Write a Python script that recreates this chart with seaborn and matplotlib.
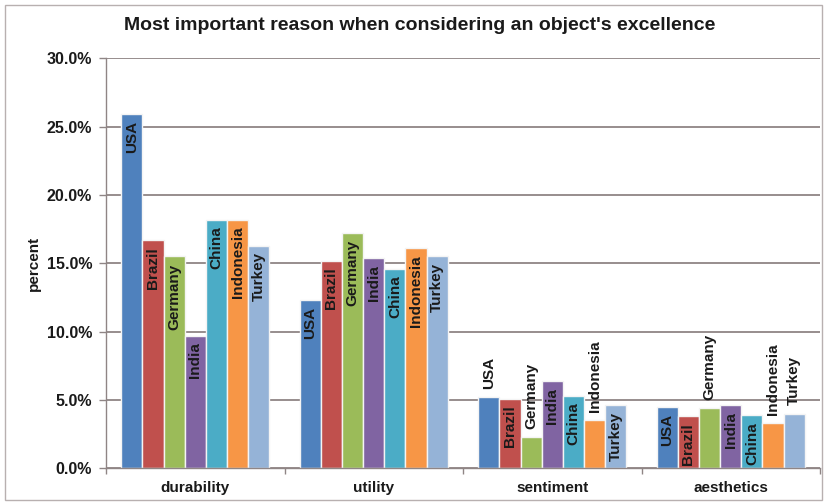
import matplotlib
matplotlib.use("Agg")
import matplotlib.pyplot as plt
import matplotlib.patches as mpatches
from matplotlib.ticker import PercentFormatter, FixedLocator
import seaborn as sns
import pandas as pd

# Survey results: share of respondents (in %) naming each reason
reasons = ["durability", "utility", "sentiment", "aesthetics"]
countries = ["USA", "Brazil", "Germany", "India", "China", "Indonesia", "Turkey"]
usa       = [25.9, 12.3, 5.2, 4.5]
brazil    = [16.7, 15.2, 5.1, 3.8]
germany   = [15.5, 17.2, 2.3, 4.4]
india     = [9.7, 15.4, 6.4, 4.6]
china     = [18.2, 14.6, 5.3, 3.9]
indonesia = [18.2, 16.1, 3.5, 3.3]
turkey    = [16.3, 15.5, 4.6, 4.0]
y_ticks = [0, 5, 10, 15, 20, 25, 30]

series = [usa, brazil, germany, india, china, indonesia, turkey]
df = pd.DataFrame(
    [(r, c, vals[i]) for c, vals in zip(countries, series) for i, r in enumerate(reasons)],
    columns=["reason", "country", "value"],
)

colors = ["#4F81BD", "#C0504D", "#9BBB59", "#8064A2", "#4BACC6", "#F79646", "#95B3D7"]

# Labels that sit above their bar instead of inside its top end
above = {("sentiment", "USA"), ("sentiment", "Germany"), ("sentiment", "Indonesia"),
         ("aesthetics", "Germany"), ("aesthetics", "Indonesia"), ("aesthetics", "Turkey")}

sns.set_theme(style="white")
plt.rcParams["font.family"] = ["Liberation Sans", "DejaVu Sans"]
plt.rcParams["font.weight"] = "bold"

fig = plt.figure(figsize=(8.25, 5.03), dpi=100)
fig.patch.set_facecolor("white")
ax = fig.add_axes([106 / 825, 1 - 468.3 / 503, (820 - 106) / 825, (468.3 - 58.3) / 503])

sns.barplot(data=df, x="reason", y="value", hue="country", order=reasons,
            hue_order=countries, palette=colors, width=0.83, saturation=1,
            edgecolor="#f4f4f4", linewidth=1.0, legend=False, ax=ax)

grid_col = "#8f8585"
ax.set_ylim(0, 30)
ax.set_xlim(-0.5, len(reasons) - 0.5)
ax.yaxis.set_major_locator(FixedLocator(y_ticks))
ax.yaxis.set_major_formatter(PercentFormatter(100, decimals=1))
ax.set_axisbelow(True)
ax.yaxis.grid(True, color=grid_col, linewidth=1.3)
ax.xaxis.grid(False)

for side in ("top", "right"):
    ax.spines[side].set_visible(False)
for side in ("left", "bottom"):
    ax.spines[side].set_color(grid_col)
    ax.spines[side].set_linewidth(1.0)

ax.tick_params(axis="y", which="major", length=5, width=1, color=grid_col,
               direction="out", pad=5, labelsize=11.5, labelcolor="#1a1a1a")
ax.tick_params(axis="y", left=True)
ax.set_xticks(range(len(reasons)))
ax.set_xticklabels(reasons, fontsize=11, fontweight="bold", color="#1a1a1a")
ax.tick_params(axis="x", which="major", length=0, pad=9)
ax.set_xticks([i - 0.5 for i in range(len(reasons) + 1)], minor=True)
ax.tick_params(axis="x", which="minor", length=4, width=1, color=grid_col,
               direction="out", bottom=True)
for lbl in ax.get_yticklabels():
    lbl.set_fontweight("bold")

ax.set_xlabel("")
ax.set_ylabel("percent", fontsize=11, fontweight="bold", color="#1a1a1a", labelpad=4)

# Country names written vertically on each bar
for container, country, vals in zip(ax.containers, countries, series):
    for bar, reason, v in zip(container, reasons, vals):
        cx = bar.get_x() + bar.get_width() / 2
        if (reason, country) in above:
            ax.text(cx, v + 0.6, country, rotation=90, ha="center", va="bottom",
                    fontsize=11, fontweight="bold", color="#1a1a1a")
        else:
            ax.text(cx, v - 0.5, country, rotation=90, ha="center", va="top",
                    fontsize=11, fontweight="bold", color="#1a1a1a")

fig.text(0.509, 1 - 25 / 503, "Most important reason when considering an object's excellence",
         ha="center", va="center", fontsize=14, fontweight="bold", color="#1a1a1a")

# Outer chart frame
fig.patches.append(mpatches.Rectangle((5 / 825, 3 / 503), 817 / 825, 495 / 503,
                                      transform=fig.transFigure, fill=False,
                                      edgecolor="#b8b0b0", linewidth=1.0))

fig.savefig("out.png", dpi=100)
